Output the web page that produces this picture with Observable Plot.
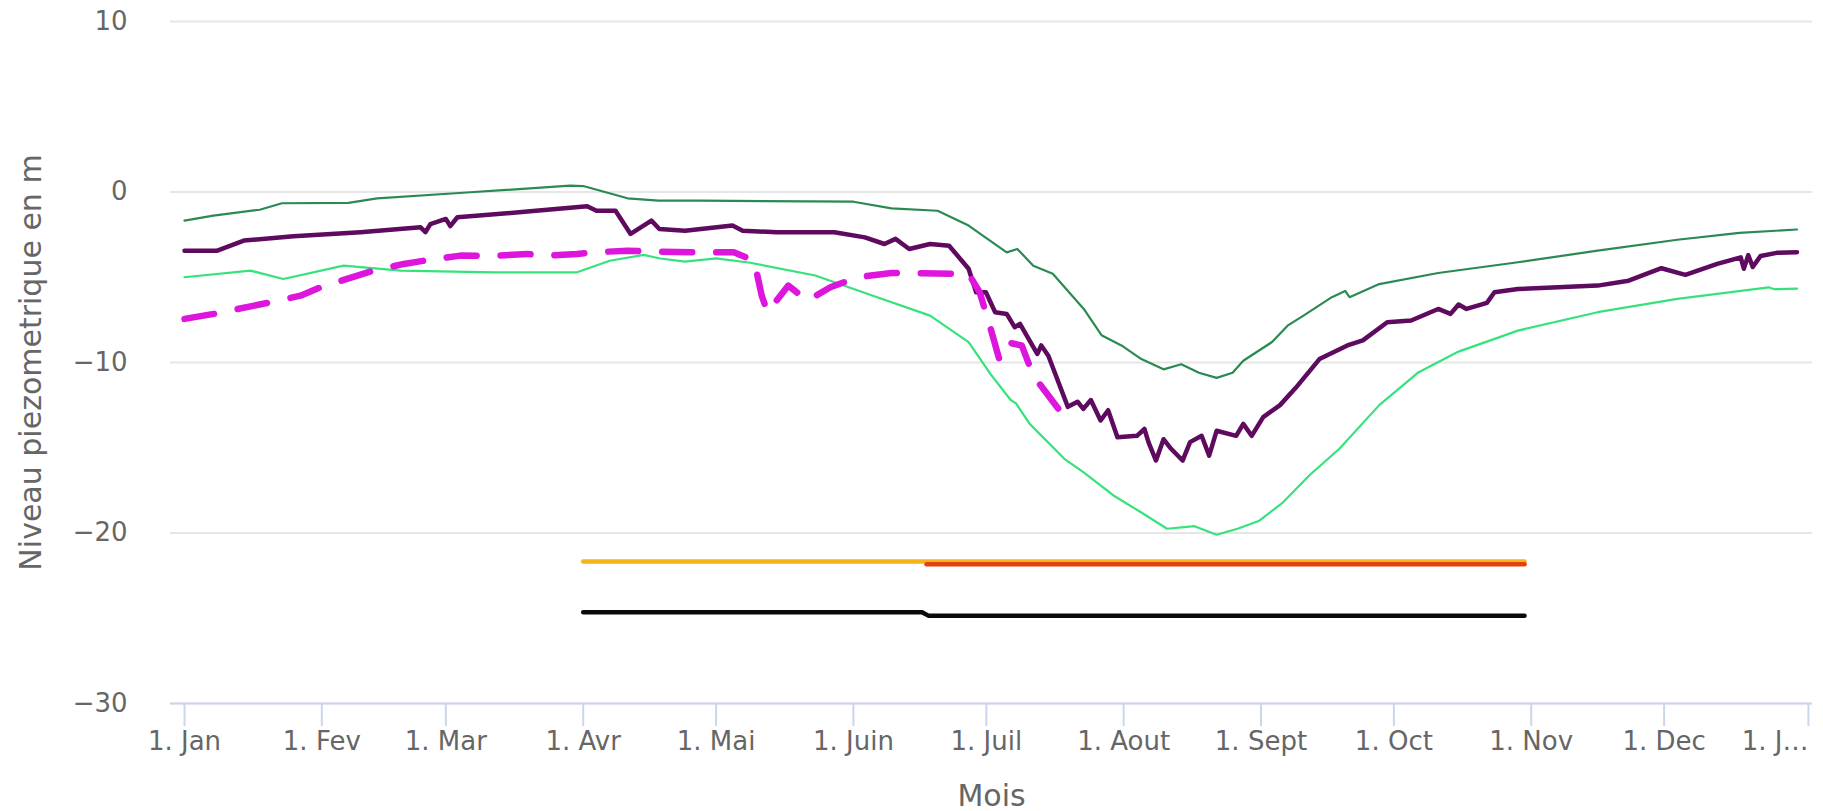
<!DOCTYPE html>
<html>
<head>
<meta charset="utf-8">
<script src="https://cdn.jsdelivr.net/npm/d3@7"></script>
<script src="https://cdn.jsdelivr.net/npm/@observablehq/plot@0.6"></script>
<style>
html, body { margin: 0; padding: 0; background: #ffffff; overflow: hidden; }
</style>
</head>
<body>
<div id="chart"></div>
<script>
// ---- Tick labels ----
const monthTickDates = ["2023-01-01","2023-02-01","2023-03-01","2023-04-01","2023-05-01","2023-06-01",
  "2023-07-01","2023-08-01","2023-09-01","2023-10-01","2023-11-01","2023-12-01","2024-01-01"];
const monthTickLabels = ["1. Jan","1. Fev","1. Mar","1. Avr","1. Mai","1. Juin","1. Juil",
  "1. Aout","1. Sept","1. Oct","1. Nov","1. Dec","1. J…"];
const yTicks = [-30, -20, -10, 0, 10];
const yTickLabels = ["−30", "−20", "−10", "0", "10"];
const yTitle = "Niveau piezometrique en m";
const xTitle = "Mois";

// ---- Series: [day of year, level in m] ----
const upperLevel = [[0,-1.68],[6.5,-1.39],[17,-1.04],[22,-0.66],[37,-0.64],[43.5,-0.37],[62,-0.06],
  [87,0.37],[90,0.35],[100,-0.37],[107,-0.51],[116.5,-0.51],[151,-0.57],[159.6,-0.96],[170,-1.1],
  [177,-1.97],[185.6,-3.54],[188,-3.34],[191.6,-4.32],[196,-4.8],[203,-6.86],[207,-8.4],[211.5,-9.0],
  [216,-9.8],[221,-10.4],[225,-10.1],[229,-10.6],[233,-10.9],[236.6,-10.6],[239,-9.9],[245.5,-8.8],
  [249,-7.84],[252.6,-7.25],[259,-6.17],[262,-5.8],[263,-6.17],[269.7,-5.4],[283,-4.75],[301,-4.12],
  [319,-3.44],[337,-2.8],[351,-2.4],[364,-2.2]];

const lowerLevel = [[0,-5.0],[14.9,-4.61],[22.3,-5.1],[35.9,-4.32],[48.8,-4.61],[69.8,-4.71],[88.6,-4.71],
  [96,-4.03],[103.6,-3.69],[107.4,-3.9],[113,-4.08],[120,-3.89],[127.7,-4.15],[142.4,-4.9],[155.4,-6.08],
  [168.3,-7.25],[177,-8.8],[182,-10.7],[186.5,-12.2],[187.7,-12.4],[190.8,-13.6],[198.6,-15.65],
  [202.9,-16.43],[209.7,-17.8],[216,-18.8],[221.8,-19.75],[228,-19.6],[233,-20.1],[237.7,-19.75],
  [242.5,-19.3],[248,-18.2],[254,-16.6],[260.7,-15.06],[269.7,-12.5],[278.6,-10.57],[287.6,-9.36],
  [301,-8.13],[319,-7.05],[337,-6.27],[357.6,-5.59],[358.9,-5.7],[364,-5.67]];

const meanLevel = [[0,-3.44],[7.4,-3.44],[13.4,-2.85],[24.6,-2.6],[39.7,-2.36],[53.3,-2.07],[54.4,-2.35],
  [55.5,-1.88],[59,-1.58],[60,-2.0],[61.6,-1.48],[77.4,-1.15],[90.9,-0.84],[93,-1.1],[97.3,-1.1],
  [100.7,-2.46],[105.4,-1.68],[107.2,-2.17],[113,-2.27],[123.7,-1.97],[126,-2.27],[133.7,-2.36],
  [146.7,-2.36],[153.6,-2.66],[158,-3.05],[160.5,-2.75],[163.6,-3.34],[168.3,-3.05],[172.6,-3.15],
  [177,-4.5],[178.7,-5.88],[180.9,-5.88],[183,-7.05],[185.6,-7.15],[187.4,-7.93],[188.6,-7.74],
  [192.5,-9.5],[193.4,-9.0],[195,-9.6],[199.4,-12.6],[201.6,-12.3],[202.9,-12.72],[204.6,-12.2],
  [206.8,-13.4],[208.5,-12.8],[210.6,-14.38],[215,-14.3],[216.7,-13.9],[217.6,-14.67],[219.3,-15.75],
  [221,-14.5],[222.7,-15.06],[225.3,-15.75],[227,-14.67],[229.6,-14.3],[231.3,-15.46],[233,-14.0],
  [237.4,-14.3],[239,-13.6],[240.9,-14.3],[243.5,-13.2],[247.3,-12.5],[250.8,-11.5],[256.2,-9.8],
  [262.5,-9.0],[266,-8.7],[271.5,-7.64],[276.9,-7.54],[283,-6.86],[285.8,-7.15],[287.6,-6.6],
  [289.4,-6.86],[294,-6.5],[295.7,-5.88],[301,-5.69],[319,-5.49],[326,-5.2],[333.4,-4.47],
  [338.8,-4.86],[346,-4.22],[351.3,-3.83],[352,-4.5],[353,-3.7],[354,-4.4],[355.8,-3.75],
  [359.4,-3.57],[364,-3.53]];

const currentLevel = [[0,-7.44],[6.6,-7.15],[19.4,-6.47],[26.2,-6.08],[30.7,-5.59],[42.7,-4.61],
  [49.5,-4.22],[55.5,-3.97],[62.3,-3.73],[69.8,-3.75],[77.4,-3.63],[81,-3.75],[88.6,-3.63],[92.4,-3.54],
  [100,-3.44],[106,-3.5],[116.5,-3.54],[124,-3.54],[128.6,-4.03],[130.3,-6.08],[131.6,-7.05],
  [136.3,-5.49],[140.6,-6.37],[145.8,-5.59],[151.9,-5.0],[159.6,-4.75],[177,-4.8],[179.5,-5.88],
  [182,-8.03],[183.9,-9.79],[185.6,-8.81],[189,-9.0],[191.6,-10.77],[195,-11.94],[198.1,-13.0]];

const vigilanceLevel = [[90,-21.67],[302.5,-21.67]];
const alerteLevel = [[167.5,-21.84],[302.5,-21.84]];
const criseLevel = [[90,-24.65],[166.5,-24.65],[168,-24.86],[302.5,-24.86]];

// ---- helpers ----
const t0 = Date.UTC(2023, 0, 1);
const DAY = 864e5;
const rows = pairs => pairs.map(([d, v]) => ({date: new Date(t0 + d * DAY), value: v}));
const tickDates = monthTickDates.map(s => new Date(s + "T00:00:00Z"));
const labelOf = new Map(tickDates.map((d, i) => [+d, monthTickLabels[i]]));
const yLabelOf = new Map(yTicks.map((v, i) => [v, yTickLabels[i]]));

const axisStyle = {fontSize: 26, color: "#666666", stroke: "#ccd6eb", strokeWidth: 2, label: null};

const chart = Plot.plot({
  width: 1823,
  height: 811,
  marginLeft: 170,
  marginRight: 11,
  marginTop: 21,
  marginBottom: 108,
  style: {fontFamily: "DejaVu Sans", background: "#ffffff", overflow: "visible"},
  x: {type: "utc", domain: [new Date(t0 - 3.16 * DAY), new Date(t0 + 367.5 * DAY)], label: null},
  y: {domain: [-30, 10], label: null},
  marks: [
    Plot.gridY(yTicks, {stroke: "#e6e6e6", strokeOpacity: 1, strokeWidth: 2}),
    Plot.ruleY([-30], {stroke: "#ccd6eb", strokeWidth: 2}),
    Plot.axisY({...axisStyle, ticks: yTicks, tickFormat: v => yLabelOf.get(v), tickSize: 0, tickPadding: 43}),
    Plot.axisX({...axisStyle, ticks: tickDates.slice(0, 12), tickFormat: d => labelOf.get(+d), tickSize: 23, tickPadding: 5}),
    Plot.axisX({...axisStyle, ticks: tickDates.slice(12), tickFormat: d => labelOf.get(+d), tickSize: 23, tickPadding: 5, textAnchor: "end", dx: 7}),
    Plot.text([yTitle], {text: d => d, frameAnchor: "left", textAnchor: "middle", rotate: -90, dx: -139, fontSize: 30, fill: "#666666", lineAnchor: "middle"}),
    Plot.text([xTitle], {text: d => d, frameAnchor: "bottom", textAnchor: "middle", dy: 93, fontSize: 30, fill: "#666666", lineAnchor: "middle"}),

    Plot.line(rows(vigilanceLevel), {x: "date", y: "value", stroke: "#f4b41a", strokeWidth: 4.5, strokeLinecap: "round"}),
    Plot.line(rows(alerteLevel), {x: "date", y: "value", stroke: "#e2420e", strokeWidth: 4.5, strokeLinecap: "round"}),
    Plot.line(rows(criseLevel), {x: "date", y: "value", stroke: "#0a0a0a", strokeWidth: 4.5, strokeLinecap: "round", strokeLinejoin: "round"}),

    Plot.line(rows(lowerLevel), {x: "date", y: "value", stroke: "#36e27c", strokeWidth: 2.2}),
    Plot.line(rows(upperLevel), {x: "date", y: "value", stroke: "#2a8a52", strokeWidth: 2.2}),
    Plot.line(rows(meanLevel), {x: "date", y: "value", stroke: "#5e0a5e", strokeWidth: 4.5, strokeLinejoin: "round"}),
    Plot.line(rows(currentLevel), {x: "date", y: "value", stroke: "#dd15dd", strokeWidth: 6.5, strokeDasharray: "30,24"})
  ]
});
document.getElementById("chart").appendChild(chart);
</script>
</body>
</html>
